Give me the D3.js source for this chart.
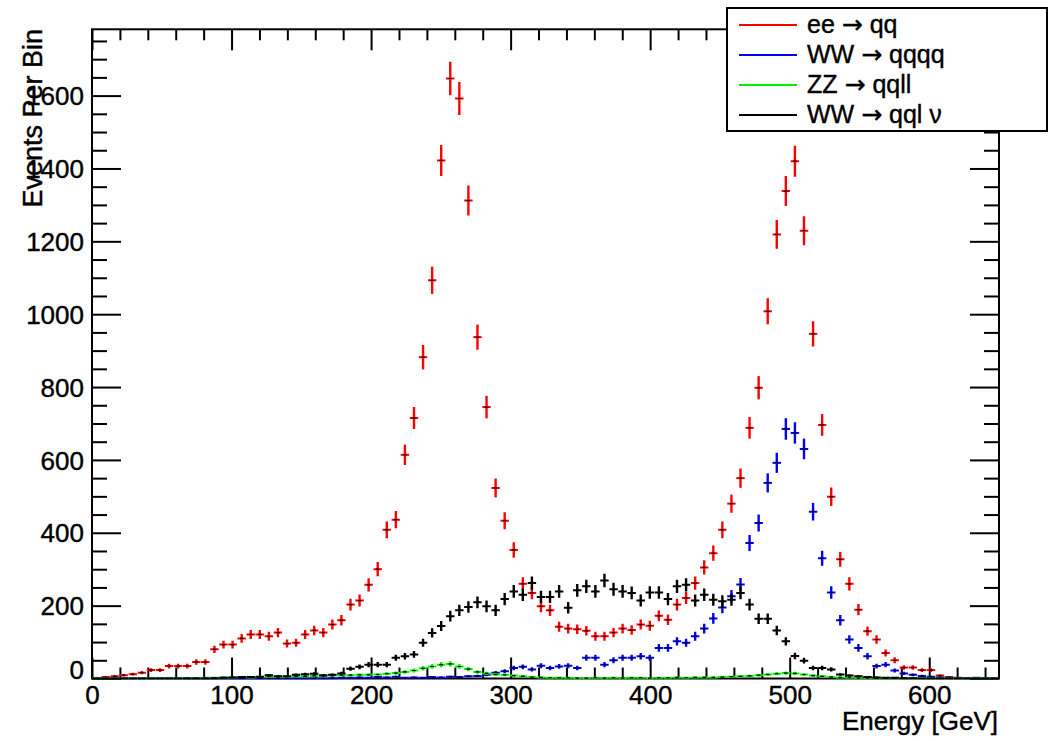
<!DOCTYPE html>
<html>
<head>
<meta charset="utf-8">
<script src="https://cdn.jsdelivr.net/npm/d3@7"></script>
<style>
  body { margin: 0; background: #fff; }
  text { font-family: "Liberation Sans", Arial, sans-serif; fill: #000; }
</style>
</head>
<body>
<script>
// 100 bins of 6.5 GeV from 0 to 650 GeV
const binWidth = 6.5;

const eeToQQ = [0, 4, 6, 9, 12, 16, 23, 23, 34, 34,
  34, 45, 45, 80, 93, 93, 110, 121, 121, 116,
  126, 96, 98, 121, 132, 126, 148, 160, 203, 214,
  257, 300, 408, 436, 614, 715, 882, 1093, 1422, 1647,
  1592, 1312, 937, 745, 523, 433, 353, 260, 235, 198,
  187, 142, 137, 135, 131, 116, 116, 126, 137, 133,
  148, 145, 172, 161, 203, 221, 262, 305, 344, 408,
  480, 550, 688, 798, 1008, 1219, 1338, 1420, 1229, 946,
  696, 499, 327, 260, 189, 130, 107, 70, 50, 30,
  30, 23, 23, 8, 4, 2, 1, 2, 1, 0];

const wwToQQQQ = [0, 0, 0, 0, 0, 0, 0, 0, 0, 0,
  0, 0, 0, 0, 0, 0, 0, 0, 0, 0,
  0, 0, 0, 0, 0, 0, 1, 2, 2, 3,
  2, 4, 3, 5, 2, 3, 2, 4, 3, 5,
  4, 6, 7, 10, 16, 20, 29, 32, 25, 35,
  29, 33, 35, 29, 57, 57, 38, 50, 57, 57,
  61, 57, 84, 84, 102, 98, 116, 137, 165, 195,
  226, 258, 372, 427, 537, 592, 685, 674, 630, 458,
  330, 236, 160, 107, 84, 61, 34, 38, 22, 14,
  10, 7, 5, 3, 2, 1, 1, 0, 0, 0];

const zzToQQLL = [0, 0, 0, 0, 0, 0, 0, 0, 0, 0,
  1, 1, 2, 2, 3, 3, 4, 3, 4, 5,
  4, 5, 6, 6, 7, 7, 8, 9, 9, 10,
  10, 11, 13, 15, 18, 22, 28, 33, 38, 40,
  33, 26, 18, 14, 11, 10, 8, 6, 4, 3,
  2, 2, 2, 1, 1, 2, 1, 2, 1, 2,
  2, 1, 2, 2, 3, 2, 3, 3, 3, 4,
  5, 6, 7, 9, 11, 13, 15, 14, 11, 8,
  6, 4, 3, 2, 1, 1, 0, 1, 0, 0,
  0, 0, 0, 0, 0, 0, 0, 0, 0, 0];

const wwToQQLNu = [0, 0, 0, 0, 0, 0, 0, 0, 0, 0,
  0, 0, 0, 1, 2, 3, 4, 4, 5, 9,
  6, 6, 10, 12, 13, 9, 10, 14, 27, 32,
  38, 38, 38, 57, 61, 66, 98, 125, 144, 171,
  187, 196, 209, 198, 187, 218, 239, 230, 262, 224,
  224, 239, 194, 242, 253, 239, 269, 245, 239, 235,
  214, 236, 236, 218, 253, 257, 214, 230, 216, 212,
  216, 235, 203, 164, 164, 132, 102, 62, 49, 29,
  29, 25, 11, 8, 6, 4, 3, 2, 2, 1,
  1, 0, 0, 0, 0, 0, 0, 0, 0, 0];

const xMajorTicks = [0, 100, 200, 300, 400, 500, 600];
const yMajorTicks = [0, 200, 400, 600, 800, 1000, 1200, 1400, 1600];

const series = [
  { label: ["ee ", " qq"], color: "#ff0000", values: eeToQQ },
  { label: ["WW ", " qqqq"], color: "#0000ff", values: wwToQQQQ },
  { label: ["ZZ ", " qqll"], color: "#00ee00", values: zzToQQLL },
  { label: ["WW ", " qql \u03bd"], color: "#000000", values: wwToQQLNu }
];

const width = 1051, height = 741;
const frame = { left: 92, right: 999, top: 29.3, bottom: 678.5 };

const svg = d3.select("body").append("svg")
  .attr("width", width)
  .attr("height", height);

const x = d3.scaleLinear().domain([0, 650]).range([frame.left, frame.right]);
const y = d3.scaleLinear().domain([0, 1782]).range([frame.bottom, frame.top]);

svg.append("clipPath").attr("id", "plot")
  .append("rect")
  .attr("x", frame.left).attr("y", frame.top - 1)
  .attr("width", frame.right - frame.left)
  .attr("height", frame.bottom - frame.top + 2);

// axes (ticks pointing inwards, ROOT style)
function axis(gen, transform, size, values, labels) {
  const g = svg.append("g")
    .attr("transform", transform)
    .call(gen.tickValues(values).tickSize(size).tickSizeOuter(0)
      .tickFormat(labels ? d3.format("d") : ""));
  g.select(".domain").remove();
  g.selectAll(".tick line").attr("stroke", "#000").attr("stroke-width", 2);
  return g;
}
const xMinor = d3.range(0, 651, 20).filter(v => v % 100 !== 0);
const yMinor = d3.range(0, 1782, 50).filter(v => v % 200 !== 0);

const xb = axis(d3.axisBottom(x), `translate(0,${frame.bottom})`, -21, xMajorTicks, true);
xb.selectAll(".tick text").attr("font-size", 26).attr("dy", 0).attr("y", 25)
  .attr("stroke", "#000").attr("stroke-width", 0.4);
axis(d3.axisBottom(x), `translate(0,${frame.bottom})`, -11, xMinor, false);
axis(d3.axisTop(x), `translate(0,${frame.top})`, -21, xMajorTicks, false);
axis(d3.axisTop(x), `translate(0,${frame.top})`, -11, xMinor, false);

const yl = axis(d3.axisLeft(y), `translate(${frame.left},0)`, -29, yMajorTicks, true);
yl.selectAll(".tick text").attr("font-size", 26).attr("x", -8).attr("dy", "0.35em")
  .attr("stroke", "#000").attr("stroke-width", 0.4);
yl.selectAll(".tick text").filter(d => d === 0).attr("dy", "0.0em");
axis(d3.axisLeft(y), `translate(${frame.left},0)`, -15, yMinor, false);
axis(d3.axisRight(y), `translate(${frame.right},0)`, -29, yMajorTicks, false);
axis(d3.axisRight(y), `translate(${frame.right},0)`, -15, yMinor, false);

// frame
svg.append("rect")
  .attr("x", frame.left).attr("y", frame.top)
  .attr("width", frame.right - frame.left)
  .attr("height", frame.bottom - frame.top)
  .attr("fill", "none").attr("stroke", "#000").attr("stroke-width", 2);

// histograms drawn as error crosses
const plot = svg.append("g").attr("clip-path", "url(#plot)");
series.forEach(s => {
  const bins = plot.append("g").selectAll("g")
    .data(s.values.map((v, i) => ({ v, i })))
    .enter().append("g");
  const lo = d => x(d.i * binWidth), hi = d => x((d.i + 1) * binWidth);
  const mid = d => x((d.i + 0.5) * binWidth);
  const err = d => 1.13 * Math.sqrt(d.v);
  bins.append("line")
    .attr("x1", d => lo(d) + 0.3).attr("x2", d => hi(d) - 0.3)
    .attr("y1", d => y(d.v)).attr("y2", d => y(d.v))
    .attr("stroke", s.color).attr("stroke-width", 2);
  bins.filter(d => d.v > 0).append("line")
    .attr("x1", mid).attr("x2", mid)
    .attr("y1", d => y(Math.max(0, d.v - err(d))))
    .attr("y2", d => y(d.v + err(d)))
    .attr("stroke", s.color).attr("stroke-width", 2.4);
  bins.append("line")
    .attr("x1", d => mid(d) - 1.8).attr("x2", d => mid(d) + 1.8)
    .attr("y1", d => y(d.v)).attr("y2", d => y(d.v))
    .attr("stroke", "#000").attr("stroke-width", 1.2);
});

// axis titles
svg.append("text")
  .attr("x", 998).attr("y", 730)
  .attr("text-anchor", "end")
  .attr("font-size", 26)
  .attr("stroke", "#000").attr("stroke-width", 0.4)
  .text("Energy [GeV]");

svg.append("text")
  .attr("transform", "translate(42,29) rotate(-90)")
  .attr("text-anchor", "end")
  .attr("font-size", 27)
  .attr("stroke", "#000").attr("stroke-width", 0.4)
  .text("Events Per Bin");

// legend
const legend = svg.append("g");
legend.append("rect")
  .attr("x", 727).attr("y", 8).attr("width", 320).attr("height", 123)
  .attr("fill", "#fff").attr("stroke", "#000").attr("stroke-width", 2);
series.forEach((s, i) => {
  const ly = 25 + i * 30;
  legend.append("line")
    .attr("x1", 739).attr("x2", 797).attr("y1", ly).attr("y2", ly)
    .attr("stroke", s.color).attr("stroke-width", 2);
  const t = legend.append("text")
    .attr("x", 807).attr("y", ly + 8)
    .attr("font-size", 25)
    .attr("stroke", "#000").attr("stroke-width", 0.4);
  t.append("tspan").text(s.label[0]);
  t.append("tspan").attr("font-family", "DejaVu Sans").attr("font-size", 25).text("\u2192");
  t.append("tspan").text(s.label[1]);
});
</script>
</body>
</html>
